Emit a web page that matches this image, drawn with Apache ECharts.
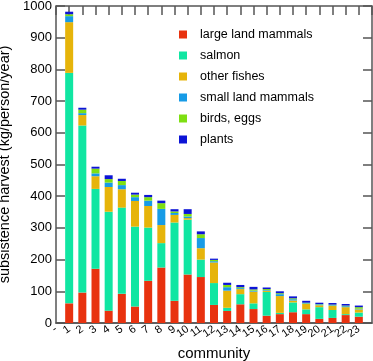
<!DOCTYPE html>
<html>
<head>
<meta charset="utf-8">
<script src="https://cdn.jsdelivr.net/npm/echarts@6/dist/echarts.min.js"></script>
<style>
  html, body { margin: 0; padding: 0; background: #fff; }
  #chart { width: 373px; height: 361px; }
</style>
</head>
<body>
<div id="chart"></div>
<script>
// communities 1..23, with an empty slot at each end of the axis
const categories = ['-', '1', '2', '3', '4', '5', '6', '7', '8', '9', '10', '11', '12',
  '13', '14', '15', '16', '17', '18', '19', '20', '21', '22', '23', ''];

const largeLandMammals = [62, 96, 171, 39, 92, 52, 133, 175, 70, 153, 145, 57, 38, 59, 44, 23, 28, 34, 28, 13, 16, 25, 20];
const salmon = [727, 527, 252, 312, 272, 252, 168, 77, 247, 173, 55, 69, 10, 32, 18, 75, 4, 31, 15, 37, 25, 3, 13];
const otherFishes = [160, 33, 40, 78, 58, 81, 68, 57, 24, 5, 36, 65, 54, 16, 37, 4, 53, 6, 17, 6, 13, 22, 10];
const smallLandMammals = [19, 6, 9, 14, 13, 12, 17, 51, 6, 5, 32, 4, 11, 3, 3, 2, 6, 4, 2, 3, 2, 3, 2];
const birdsEggs = [6, 11, 15, 11, 13, 8, 11, 18, 5, 8, 12, 4, 7, 3, 4, 3, 3, 3, 2, 1, 2, 2, 5];
const plants = [8, 6, 6, 12, 7, 6, 7, 8, 7, 15, 9, 4, 7, 7, 8, 5, 6, 6, 6, 4, 5, 5, 5];

const yTicks = { min: 0, max: 1000, interval: 100 };

const font = 'Liberation Sans, Arial, sans-serif';
const axisColor = '#555';
const tickLen = 9;

function pad(arr) {
  return [null].concat(arr, [null]);
}

const seriesDefs = [
  ['large land mammals', largeLandMammals, '#e8320f'],
  ['salmon', salmon, '#10e6a2'],
  ['other fishes', otherFishes, '#e6b40a'],
  ['small land mammals', smallLandMammals, '#179be6'],
  ['birds, eggs', birdsEggs, '#7edf12'],
  ['plants', plants, '#0c14d6'],
];

// tick-only axes, pulled inside the frame so their ticks point inward
const tickStyle = { show: true, length: tickLen, lineStyle: { color: axisColor, width: 1.5 } };
function tickAxisY(position) {
  return {
    type: 'value', min: yTicks.min, max: yTicks.max, interval: yTicks.interval,
    position: position, offset: -tickLen,
    axisLine: { show: false }, axisLabel: { show: false }, splitLine: { show: false },
    axisTick: tickStyle,
  };
}

const chart = echarts.init(document.getElementById('chart'));

chart.setOption({
  animation: false,
  textStyle: { fontFamily: font },
  grid: {
    left: 56, right: 1, top: 6, bottom: 38,
    outerBoundsMode: 'none',
    show: true, borderColor: axisColor, borderWidth: 1.5,
  },
  legend: {
    orient: 'vertical',
    left: 174,
    top: 23,
    itemWidth: 8,
    itemHeight: 8,
    itemGap: 8,
    icon: 'rect',
    textStyle: { fontSize: 12.5, color: '#000', fontFamily: font, padding: [0, 0, 0, 8] },
    data: seriesDefs.map(s => s[0]),
  },
  xAxis: [
    {
      type: 'category',
      data: categories,
      boundaryGap: false,
      position: 'bottom',
      name: 'community',
      nameLocation: 'middle',
      nameGap: 21,
      nameTextStyle: { fontSize: 15, color: '#000', fontFamily: font },
      axisLine: { lineStyle: { color: axisColor, width: 1.5 } },
      axisTick: { show: false },
      axisLabel: { rotate: 35, fontSize: 11, color: '#000', margin: 5, interval: 0 },
    },
    {
      type: 'category',
      data: categories,
      boundaryGap: false,
      position: 'top',
      offset: -tickLen,
      axisLine: { show: false, onZero: false },
      axisLabel: { show: false },
      axisTick: Object.assign({ interval: 0 }, tickStyle),
    },
  ],
  yAxis: [
    {
      type: 'value',
      min: yTicks.min,
      max: yTicks.max,
      interval: yTicks.interval,
      position: 'left',
      name: 'subsistence harvest (kg/person/year)',
      nameLocation: 'middle',
      nameGap: 38,
      nameTextStyle: { fontSize: 14.5, color: '#000', fontFamily: font },
      axisLine: { show: false },
      axisTick: { show: false },
      axisLabel: { fontSize: 13, color: '#000', margin: 4, formatter: v => String(v) },
      splitLine: { show: false },
    },
    tickAxisY('right'),
    tickAxisY('left'),
  ],
  series: seriesDefs.map(([name, values, color]) => ({
    name: name,
    type: 'bar',
    stack: 'total',
    xAxisIndex: 0,
    yAxisIndex: 0,
    barWidth: 8,
    itemStyle: { color: color },
    data: pad(values),
  })),
});
</script>
</body>
</html>
